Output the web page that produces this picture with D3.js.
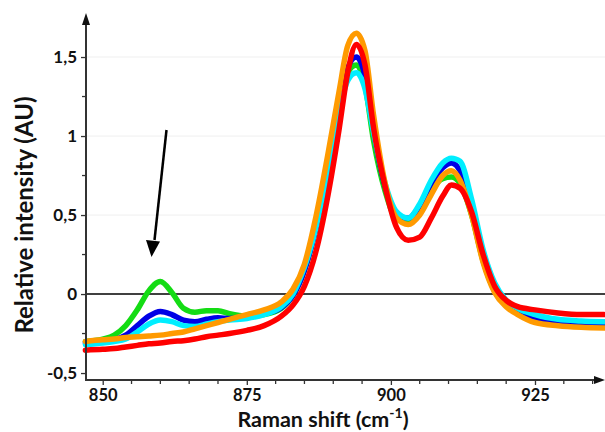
<!DOCTYPE html>
<html><head><meta charset="utf-8">
<script src="https://cdn.jsdelivr.net/npm/d3@7/dist/d3.min.js"></script>
<style>body{margin:0;background:#fff;} svg{display:block;}</style>
</head><body>
<svg id="chart" width="605" height="432"></svg>
<script>
const shift = [847, 850, 852, 854, 856, 858, 860, 862, 864, 866, 868, 870, 872, 875, 878, 881, 883, 885, 887, 889, 891, 892.5, 894, 895.5, 897, 899, 901, 903, 905, 907, 909, 910.5, 912, 914, 916, 918, 920, 922, 925, 929, 933, 937];

const green = [-0.30, -0.285, -0.26, -0.20, -0.10, 0.02, 0.08, 0.01, -0.09, -0.115, -0.105, -0.105, -0.125, -0.14, -0.13, -0.09, -0.01, 0.15, 0.42, 0.80, 1.18, 1.40, 1.45, 1.32, 0.97, 0.65, 0.48, 0.47, 0.54, 0.66, 0.73, 0.74, 0.70, 0.50, 0.21, 0.02, -0.07, -0.11, -0.15, -0.18, -0.19, -0.195];
const blue = [-0.31, -0.30, -0.29, -0.26, -0.20, -0.14, -0.11, -0.13, -0.165, -0.175, -0.16, -0.15, -0.155, -0.15, -0.125, -0.085, -0.01, 0.15, 0.42, 0.80, 1.20, 1.43, 1.50, 1.38, 1.03, 0.68, 0.50, 0.48, 0.56, 0.70, 0.80, 0.83, 0.78, 0.55, 0.22, 0.02, -0.07, -0.11, -0.15, -0.18, -0.19, -0.195];
const cyan = [-0.32, -0.31, -0.30, -0.285, -0.24, -0.19, -0.165, -0.175, -0.20, -0.205, -0.19, -0.175, -0.165, -0.155, -0.13, -0.08, 0.00, 0.17, 0.42, 0.78, 1.15, 1.35, 1.40, 1.30, 1.02, 0.70, 0.52, 0.48, 0.57, 0.72, 0.83, 0.86, 0.84, 0.60, 0.28, 0.07, -0.04, -0.09, -0.13, -0.16, -0.17, -0.175];
const orange = [-0.30, -0.29, -0.285, -0.275, -0.27, -0.265, -0.26, -0.25, -0.24, -0.22, -0.20, -0.18, -0.16, -0.13, -0.10, -0.05, 0.03, 0.19, 0.49, 0.87, 1.28, 1.57, 1.65, 1.54, 1.13, 0.70, 0.48, 0.44, 0.50, 0.63, 0.75, 0.78, 0.72, 0.50, 0.20, 0.01, -0.08, -0.13, -0.18, -0.20, -0.21, -0.215];
const red = [-0.355, -0.35, -0.345, -0.335, -0.325, -0.315, -0.31, -0.30, -0.295, -0.285, -0.27, -0.26, -0.25, -0.23, -0.20, -0.14, -0.07, 0.05, 0.27, 0.61, 1.04, 1.40, 1.58, 1.45, 1.05, 0.68, 0.42, 0.34, 0.36, 0.48, 0.62, 0.69, 0.67, 0.52, 0.25, 0.05, -0.04, -0.08, -0.10, -0.12, -0.13, -0.13];

const seriesNames = ["green", "blue", "cyan", "orange", "red"];
const seriesValues = [green, blue, cyan, orange, red];
const seriesColors = ["#14dc14", "#0000e6", "#00eeff", "#ff9a00", "#ff0000"];

const xTicks = [850, 875, 900, 925];
const xMinor = [855, 860, 865, 870, 880, 885, 890, 895, 905, 910, 915, 920, 930, 935];
const yTicks = [-0.5, 0, 0.5, 1, 1.5];
const yTickLabels = ["-0,5", "0", "0,5", "1", "1,5"];
const yMinor = [-0.25, 0.25, 0.75, 1.25];
const gridValues = [0.5, 1, 1.5];

const svg = d3.select("#chart");
const x = d3.scaleLinear().domain([847.1, 936.8]).range([86, 603]);
const y = d3.scaleLinear().domain([-0.544, 1.766]).range([380, 15]);
const font = "Lato, 'Open Sans', sans-serif";

// grid
svg.append("g").selectAll("line").data(gridValues).join("line")
  .attr("x1", 86).attr("x2", 605).attr("y1", d => y(d)).attr("y2", d => y(d))
  .attr("stroke", "#efefef").attr("stroke-width", 1);

// zero line
svg.append("line").attr("x1", 86).attr("x2", 605).attr("y1", y(0)).attr("y2", y(0))
  .attr("stroke", "#000").attr("stroke-width", 1.5);

// lines
const line = d3.line().x((d, i) => x(shift[i])).y(d => y(d)).curve(d3.curveMonotoneX);
svg.append("g").selectAll("path").data(seriesValues).join("path")
  .attr("d", d => line(d)).attr("fill", "none")
  .attr("stroke", (d, i) => seriesColors[i]).attr("stroke-width", 5.5)
  .attr("stroke-linejoin", "round").attr("stroke-linecap", "round");

// axes
const axisColor = "#333";
const xAxis = svg.append("g").attr("transform", `translate(0,380)`)
  .call(d3.axisBottom(x).tickValues(xTicks).tickSize(5).tickFormat(d3.format("d")));
const yAxis = svg.append("g").attr("transform", `translate(86,0)`)
  .call(d3.axisLeft(y).tickValues(yTicks).tickSize(5).tickFormat((d, i) => yTickLabels[i]));
[xAxis, yAxis].forEach(g => {
  g.select(".domain").remove();
  g.selectAll("line").attr("stroke", axisColor).attr("stroke-width", 1.3);
  g.selectAll("text").attr("font-family", font).attr("font-weight", "bold")
    .attr("font-size", 17).attr("fill", "#111");
});
xAxis.selectAll("text").attr("y", 9).attr("font-size", 16.5);
yAxis.selectAll("text").attr("dx", "-1px");

svg.append("g").attr("transform", "translate(0,380)").selectAll("line").data(xMinor).join("line")
  .attr("x1", d => x(d)).attr("x2", d => x(d)).attr("y1", 0).attr("y2", 4)
  .attr("stroke", axisColor).attr("stroke-width", 1.3);
svg.append("g").selectAll("line").data(yMinor).join("line")
  .attr("x1", 82).attr("x2", 86).attr("y1", d => y(d)).attr("y2", d => y(d))
  .attr("stroke", axisColor).attr("stroke-width", 1.3);

// axis lines with arrows
svg.append("line").attr("x1", 86).attr("x2", 86).attr("y1", 381).attr("y2", 22)
  .attr("stroke", axisColor).attr("stroke-width", 2);
svg.append("path").attr("d", "M86,13 L82,25 L90,25 Z").attr("fill", "#111");
svg.append("line").attr("x1", 85).attr("x2", 596).attr("y1", 380).attr("y2", 380)
  .attr("stroke", axisColor).attr("stroke-width", 2);
svg.append("path").attr("d", "M605,380 L594,376 L594,384 Z").attr("fill", "#111");

// annotation arrow
svg.append("line").attr("x1", 166.5).attr("y1", 130).attr("x2", 154.5).attr("y2", 240)
  .attr("stroke", "#000").attr("stroke-width", 2.5);
svg.append("path").attr("d", "M151.5,257 L146,240 L160,241.5 Z").attr("fill", "#000");

// axis titles
svg.append("text").attr("transform", "translate(33,215) rotate(-90)")
  .attr("text-anchor", "middle").attr("font-family", font).attr("font-weight", "bold")
  .attr("font-size", 24).attr("fill", "#111").text("Relative intensity (AU)");
const xt = svg.append("text").attr("x", 323).attr("y", 426.5)
  .attr("text-anchor", "middle").attr("font-family", font).attr("font-weight", "bold")
  .attr("font-size", 21.5).attr("fill", "#111");
xt.append("tspan").text("Raman shift (cm");
xt.append("tspan").attr("font-size", 14).attr("dy", -9).text("-1");
xt.append("tspan").attr("dy", 9).text(")");
</script>
</body></html>
